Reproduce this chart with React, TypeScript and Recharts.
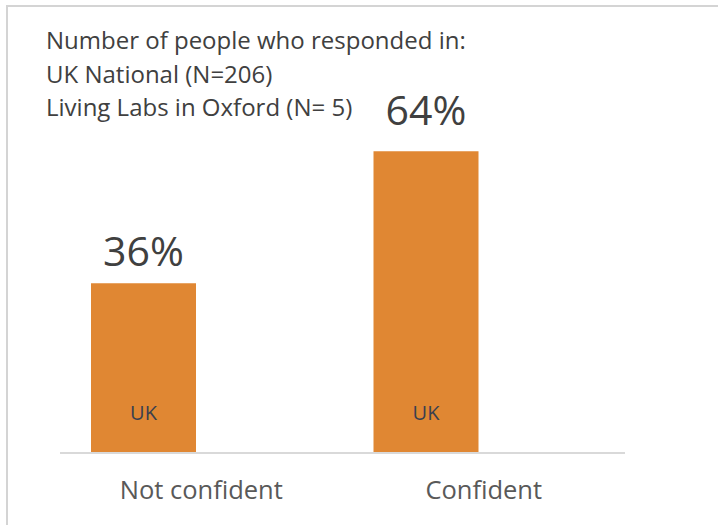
import { BarChart, Bar, XAxis, YAxis, LabelList } from 'recharts';

const categories = ['Not confident', 'Confident'];
const ukValues = [36, 64];
const livingLabsValues: (number | null)[] = [null, null];
const titleLines = ['Number of people who responded in:', 'UK National (N=206)', 'Living Labs in Oxford (N= 5)'];

const data = categories.map((name, i) => ({ name, uk: ukValues[i], labs: livingLabsValues[i] }));

const FONT = '"Open Sans", Calibri, sans-serif';
// gap between bar top and value label baseline, per category (as in the source chart)
const labelLift = [17, 26];

const CategoryTick = (props: any) => {
  const { x, y, payload } = props;
  return (
    <text x={x} y={y + 38} textAnchor="middle" fill="#595959" fontSize={25.5} fontFamily={FONT}>
      {payload.value}
    </text>
  );
};

const PercentLabel = (props: any) => {
  const { x, y, width, value, index } = props;
  if (value == null) return null;
  return (
    <text x={x + width / 2} y={y - (labelLift[index] ?? 17)} textAnchor="middle" fill="#404040" fontSize={41} fontFamily={FONT}>
      {value}%
    </text>
  );
};

const SeriesLabel = (props: any) => {
  const { x, y, width, height, value } = props;
  if (value == null) return null;
  return (
    <text x={x + width / 2} y={y + height - 33} textAnchor="middle" fill="#3a3f4f" fontSize={20} fontFamily={FONT}>
      UK
    </text>
  );
};

export default function App() {
  return (
    <div style={{ position: 'fixed', left: 0, top: 0, width: 718, height: 525, background: '#fff', overflow: 'hidden' }}>
      <div
        style={{
          position: 'absolute',
          left: 6,
          top: 5,
          width: 760,
          height: 560,
          borderLeft: '2px solid #d4d4d4',
          borderTop: '2px solid #d4d4d4',
        }}
      />
      <div
        style={{
          position: 'absolute',
          left: 46,
          top: 23,
          fontFamily: FONT,
          fontSize: 24,
          lineHeight: '33.5px',
          color: '#404040',
          whiteSpace: 'nowrap',
        }}
      >
        {titleLines.map((t) => (
          <div key={t}>{t}</div>
        ))}
      </div>
      <BarChart
        width={718}
        height={525}
        data={data}
        margin={{ top: 123, right: 93, bottom: 0, left: 60 }}
        barSize={105}
        barGap={10}
        style={{ position: 'absolute', left: 0, top: 0 }}
      >
        <XAxis
          dataKey="name"
          height={72}
          axisLine={{ stroke: '#d9d9d9', strokeWidth: 2 }}
          tickLine={false}
          tick={<CategoryTick />}
          interval={0}
        />
        <YAxis hide domain={[0, 70]} />
        <Bar dataKey="uk" fill="#e08733" isAnimationActive={false}>
          <LabelList dataKey="uk" content={<PercentLabel />} />
          <LabelList dataKey="uk" content={<SeriesLabel />} />
        </Bar>
        <Bar dataKey="labs" fill="#7f7f7f" isAnimationActive={false} />
      </BarChart>
    </div>
  );
}
